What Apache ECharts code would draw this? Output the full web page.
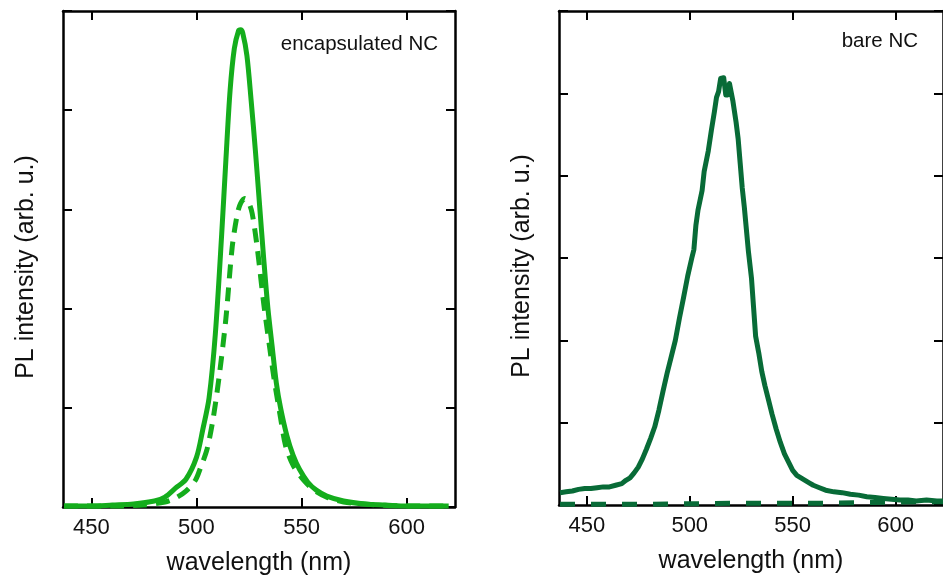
<!DOCTYPE html>
<html>
<head>
<meta charset="utf-8">
<script src="https://cdn.jsdelivr.net/npm/echarts@6/dist/echarts.min.js"></script>
<style>html,body{margin:0;padding:0;background:#fff;}#c{width:943px;height:584px;}</style>
</head>
<body>
<div id="c"></div>
<script>
// ---- data ----
const xTickValues = [450, 500, 550, 600];
const yTicksLeft = [0, 1, 2, 3, 4, 5];
const yTicksRight = [0, 1, 2, 3, 4, 5, 6];

const encSolidX = [437,450,460,470,480,485,490,495,500,503,506,509,512,514,516,518,520,521,522,524,526,528,530,532,534,536,538,540,543,546,549,553,557,562,570,580,590,600,620];
const encSolidY = [0.01,0.01,0.02,0.03,0.06,0.10,0.19,0.28,0.50,0.78,1.10,1.75,2.75,3.50,4.20,4.62,4.80,4.81,4.78,4.55,4.10,3.60,3.05,2.50,2.00,1.62,1.25,1.00,0.72,0.52,0.38,0.25,0.17,0.11,0.06,0.03,0.02,0.01,0.01];

const encDashX = [437,460,475,485,490,495,499.5,502,505,508,511,514,517,519.5,521,523,525,526.5,529,532,535,537,540,542.5,546,551,556,562,570,580,600,620];
const encDashY = [0.01,0.01,0.02,0.05,0.09,0.16,0.27,0.40,0.58,0.90,1.35,1.90,2.62,2.96,3.06,3.11,3.06,2.96,2.60,2.05,1.58,1.28,0.90,0.61,0.42,0.27,0.17,0.10,0.05,0.03,0.01,0.01];

const bareSolidX = [437,440,443,446,449,452,455,458,461,464,467,469,471,473,475,477,479,481,483,485,487,489,491,493,495,497,499,501,502,503,504,506,507,509,510.5,512,513,514,515,516.5,517.5,518.5,519.3,520,521,522.5,523.5,524.5,525.5,526.5,527.5,528.5,530,531,532,533.5,535,536.5,538,540,542,544,546,548,550,552,554,556,558,560,563,566,570,574,578,582,586,590,594,598,602,606,610,615,620,623];
const bareSolidY = [0.15,0.16,0.17,0.19,0.20,0.20,0.21,0.22,0.22,0.24,0.26,0.30,0.33,0.39,0.46,0.56,0.68,0.81,0.95,1.15,1.38,1.60,1.80,2.00,2.27,2.52,2.78,3.00,3.10,3.40,3.58,3.82,4.05,4.30,4.55,4.78,4.95,5.02,5.18,5.19,4.98,4.98,5.12,5.10,4.90,4.65,4.45,4.15,3.85,3.62,3.35,3.08,2.75,2.40,2.05,1.85,1.62,1.45,1.30,1.10,0.92,0.76,0.62,0.52,0.42,0.36,0.33,0.30,0.27,0.24,0.21,0.18,0.16,0.15,0.13,0.12,0.10,0.09,0.08,0.07,0.06,0.06,0.05,0.06,0.05,0.05];

const bareDashX = [437,480,520,560,590,610,623];
const bareDashY = [0.01,0.01,0.02,0.02,0.03,0.04,0.04];

const leftLabel = 'encapsulated NC';
const rightLabel = 'bare NC';
const xName = 'wavelength (nm)';
const yName = 'PL intensity (arb. u.)';

// ---- chart ----
const zip = (xs, ys) => xs.map((x, i) => [x, ys[i]]);
const FONT = "'Liberation Sans', Arial, sans-serif";
const cLeft = '#14ad1c';
const cRight = '#086b37';

function xAxes(gi) {
  const base = {
    type: 'value', gridIndex: gi, min: 436.5, max: 623,
    axisLine: { show: true, onZero: false, lineStyle: { color: '#000', width: 2.5 } },
    axisTick: { show: true, inside: true, length: 9, customValues: xTickValues, lineStyle: { color: '#000', width: 2 } },
    splitLine: { show: false }
  };
  return [
    Object.assign({}, base, {
      position: 'bottom',
      axisLabel: { show: true, customValues: xTickValues, margin: 10, fontSize: 22, color: '#111', fontFamily: FONT },
      name: xName, nameLocation: 'middle', nameGap: 44,
      nameTextStyle: { fontSize: 25, color: '#111', fontFamily: FONT }
    }),
    Object.assign({}, base, { position: 'top', axisLabel: { show: false } })
  ];
}
function yAxes(gi, ticks) {
  const base = {
    type: 'value', gridIndex: gi, min: ticks[0], max: ticks[ticks.length - 1], interval: 1,
    axisLine: { show: true, onZero: false, lineStyle: { color: '#000', width: 2.5 } },
    axisTick: { show: true, inside: true, length: 9, lineStyle: { color: '#000', width: 2 } },
    axisLabel: { show: false },
    splitLine: { show: false }
  };
  return [
    Object.assign({}, base, {
      position: 'left', name: yName, nameLocation: 'middle', nameGap: 24, nameRotate: 90,
      nameTextStyle: { fontSize: 25, color: '#111', fontFamily: FONT, padding: [0, 16, 0, 0] }
    }),
    Object.assign({}, base, { position: 'right' })
  ];
}

const chart = echarts.init(document.getElementById('c'), null, { renderer: 'canvas' });
chart.setOption({
  animation: false,
  backgroundColor: '#fff',
  grid: [
    { left: 63, top: 11, width: 392, height: 496 },
    { left: 559, top: 11, width: 392, height: 494 }
  ],
  xAxis: [...xAxes(0), ...xAxes(1)],
  yAxis: [...yAxes(0, yTicksLeft), ...yAxes(1, yTicksRight)],
  graphic: [
    { type: 'text', x: 438, y: 44, style: { text: leftLabel, align: 'right', verticalAlign: 'middle', font: '20.5px ' + FONT, fill: '#111' } },
    { type: 'text', x: 918, y: 41, style: { text: rightLabel, align: 'right', verticalAlign: 'middle', font: '20.5px ' + FONT, fill: '#111' } }
  ],
  series: [
    { type: 'line', xAxisIndex: 0, yAxisIndex: 0, data: zip(encDashX, encDashY), showSymbol: false, smooth: 0.3, clip: false,
      lineStyle: { color: cLeft, width: 5, type: [14, 9] } },
    { type: 'line', xAxisIndex: 0, yAxisIndex: 0, data: zip(encSolidX, encSolidY), showSymbol: false, smooth: 0.3, clip: false,
      lineStyle: { color: cLeft, width: 5 } },
    { type: 'line', xAxisIndex: 2, yAxisIndex: 2, data: zip(bareDashX, bareDashY), showSymbol: false, clip: false,
      lineStyle: { color: cRight, width: 5, type: [15, 16] } },
    { type: 'line', xAxisIndex: 2, yAxisIndex: 2, data: zip(bareSolidX, bareSolidY), showSymbol: false, clip: false,
      lineStyle: { color: cRight, width: 5, join: 'round' } }
  ]
});
</script>
</body>
</html>
